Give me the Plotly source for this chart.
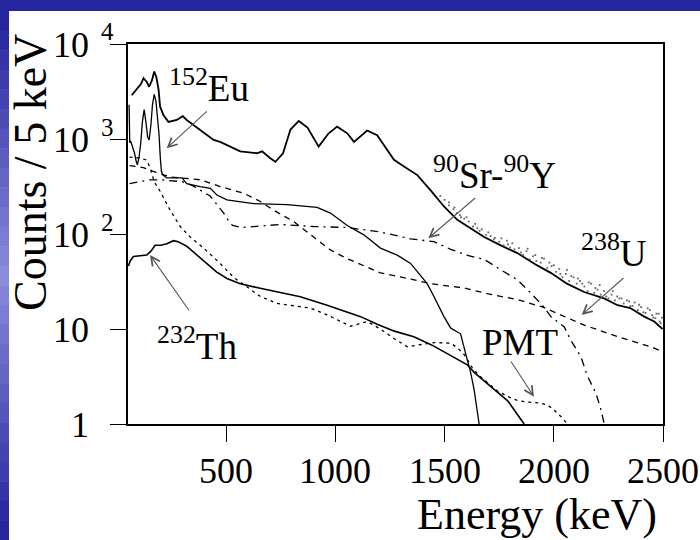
import math
import plotly.graph_objects as go

# ---------------- data ----------------
total_E = [67, 90, 110, 121, 136, 147, 160, 170, 180, 190, 197, 213, 235, 273, 301, 319, 381, 442, 472, 520,
           564, 641, 664, 700, 725, 760, 794, 832, 872, 923, 969, 1008, 1054, 1085, 1145, 1191, 1222, 1268,
           1307, 1375, 1436, 1497, 1558, 1615, 1681, 1757, 1833, 1922, 1986, 2060, 2139, 2230, 2292, 2350,
           2414, 2460, 2498]
total_C = [2884, 3388, 3802, 4365, 3981, 3548, 4169, 5129, 4467, 3311, 2188, 1778, 1514, 1585, 1738, 1585,
           1230, 977, 933, 832, 741, 708, 741, 631, 575, 708, 1259, 1549, 1318, 832, 1148, 1349, 1148, 933,
           1230, 1096, 871, 603, 525, 417, 288, 195, 141, 117, 93, 76, 63, 47, 39, 30, 24.5, 21, 17.8, 16.6,
           13.5, 12, 10]

data_E = [1480, 1500, 1520, 1540, 1555, 1570, 1590, 1610, 1630, 1650, 1670, 1690, 1710, 1730, 1750, 1770,
          1785, 1800, 1820, 1840, 1860, 1875, 1890, 1905, 1920, 1940, 1955, 1970, 1990, 2010, 2025, 2040,
          2055, 2070, 2090, 2105, 2120, 2140, 2155, 2170, 2185, 2200, 2215, 2230, 2250, 2265, 2280, 2300,
          2320, 2335, 2350, 2370, 2385, 2400, 2420, 2440, 2455, 2470, 2485, 2495,
          1520, 1545, 1575, 1600, 1640, 1660, 1700, 1725, 1760, 1790, 1810, 1850, 1880, 1915, 1945, 1980,
          2000, 2030, 2060, 2080, 2110, 2130, 2160, 2190, 2210, 2240, 2270, 2290, 2310, 2345, 2360, 2390,
          2410, 2430, 2450, 2465, 2480, 2490]
data_C = [251, 229, 200, 182, 166, 158, 145, 135, 120, 115, 112, 98, 95, 91, 83, 76, 85, 72, 69, 71, 60, 66,
          54, 58, 52, 50, 55, 44, 46, 40, 43, 35, 38, 32, 35, 30, 32, 28, 25, 30, 24, 26, 23, 25, 21, 23, 20,
          21, 18.6, 20, 17.4, 19, 15.8, 17, 14.8, 15.8, 13.2, 14.5, 12, 13.2,
          215, 190, 150, 150, 128, 108, 104, 88, 90, 78, 80, 64, 70, 60, 56, 50, 47, 38, 42, 36, 34, 30, 31,
          27, 29, 22, 25, 22, 21, 19.5, 17.5, 18, 15, 16.5, 14, 13, 14.5, 11.5]

eu_E = [55, 58, 62, 67, 72, 80, 88, 93, 100, 108, 116, 124, 132, 140, 147, 155, 162, 170, 178, 185, 192, 198,
        203, 210, 228, 297, 319, 380, 427, 457, 503, 625, 778, 916, 977, 1054, 1130, 1206, 1283, 1344, 1390,
        1420, 1451, 1497, 1528, 1573, 1604, 1619, 1635, 1658]
eu_C = [2290, 912, 955, 891, 832, 708, 575, 537, 631, 891, 1514, 2042, 1514, 1047, 977, 1413, 2291, 2951, 2512,
        1778, 1122, 631, 457, 417, 389, 389, 339, 316, 302, 257, 229, 209, 204, 191, 166, 123, 98, 71, 60, 49,
        37, 30, 22, 13.5, 10.2, 8.9, 4.7, 3.5, 2.3, 1]

th_E = [52, 60, 75, 100, 136, 155, 174, 200, 228, 258, 280, 320, 365, 411, 455, 503, 564, 650, 733, 839, 962,
        1040, 1115, 1191, 1270, 1359, 1440, 1512, 1560, 1604, 1635, 1670, 1711, 1757, 1790, 1818, 1845, 1864]
th_C = [46, 52, 58, 59, 60, 66, 76, 76, 79, 85, 83, 74, 60, 49, 40, 34, 30, 27, 24.5, 21.9, 17.8, 15.5, 13.5,
        11.2, 9.5, 8.3, 6.8, 5.5, 4.8, 4.2, 3.5, 3.0, 2.45, 2.0, 1.74, 1.41, 1.17, 1]

pmt_E = [57, 100, 135, 151, 170, 197, 243, 289, 335, 396, 472, 534, 557, 656, 733, 885, 962, 1069, 1145, 1206,
         1270, 1329, 1400, 1451, 1528, 1560, 1589, 1627, 1660, 1696, 1740, 1788, 1830, 1880, 1940, 1972, 2000,
         2032, 2063]
pmt_C = [646, 631, 603, 501, 355, 282, 178, 120, 93, 71, 49, 35, 32, 22, 18.6, 16.6, 14.1, 10.7, 12, 10, 7.9,
         6.5, 6.9, 7.2, 7.1, 6.3, 5.4, 3.9, 3.2, 2.7, 2.24, 1.95, 1.78, 1.70, 1.66, 1.58, 1.41, 1.2, 1]

sry_E = [57, 100, 150, 200, 260, 300, 344, 390, 426, 460, 488, 510, 529, 570, 650, 748, 900, 1054, 1206, 1344,
         1451, 1528, 1600, 1681, 1757, 1833, 1894, 1955, 1986, 2048, 2078, 2124, 2154, 2193, 2216, 2231]
sry_C = [339, 355, 372, 372, 363, 355, 324, 282, 251, 200, 166, 138, 123, 117, 120, 126, 120, 117, 105, 89, 83,
         69, 60, 54, 42, 33, 24, 17, 13.5, 10.5, 7.6, 5.1, 3.2, 2.1, 1.41, 1]

u_E = [57, 120, 165, 243, 381, 472, 579, 650, 717, 809, 916, 977, 1054, 1130, 1206, 1307, 1436, 1589, 1700,
       1833, 1950, 2030, 2139, 2292, 2445, 2500]
u_C = [525, 501, 457, 398, 372, 316, 269, 224, 178, 135, 87, 68, 55, 46, 39, 35, 30, 27, 23.4, 20.4, 17, 14.1,
       11, 8.3, 6.5, 5.75]

x_range = [50, 2500]
x_ticks = [500, 1000, 1500, 2000, 2500]
x_minor = [v for v in range(100, 2500, 100) if v % 500]
y_major = [1, 10, 100, 1000, 10000]
y_minor = [m * d for d in (1, 10, 100, 1000) for m in range(2, 10)]
y_labels = [("1", ""), ("10", ""), ("10", "2"), ("10", "3"), ("10", "4")]

# ---------------- figure ----------------
SERIF = "Liberation Serif"
W, H = 700, 540
L, R, T, B = 128, 663, 44, 424
YDEC = 4.0  # decades shown on the log axis (1 .. 10^4)
PW, PH = R - L, B - T
X_PER_PX = (x_range[1] - x_range[0]) / PW
DEC_PER_PX = YDEC / PH


def px(x):
    return (x - L) / PW


def py(y):
    return (B - y) / PH


fig = go.Figure()
lw = 1.3
fig.add_trace(go.Scatter(x=total_E, y=total_C, mode="lines", line=dict(color="black", width=1.8)))
fig.add_trace(go.Scatter(x=data_E, y=data_C, mode="markers",
                         marker=dict(color="#666", size=1.8, symbol="square")))
fig.add_trace(go.Scatter(x=eu_E, y=eu_C, mode="lines", line=dict(color="black", width=lw)))
fig.add_trace(go.Scatter(x=th_E, y=th_C, mode="lines", line=dict(color="black", width=1.6)))
fig.add_trace(go.Scatter(x=pmt_E, y=pmt_C, mode="lines",
                         line=dict(color="black", width=lw, dash="3px,4px")))
fig.add_trace(go.Scatter(x=sry_E, y=sry_C, mode="lines",
                         line=dict(color="black", width=lw, dash="8px,5px,2px,5px")))
fig.add_trace(go.Scatter(x=u_E, y=u_C, mode="lines",
                         line=dict(color="black", width=lw, dash="6px,5px")))

# tick marks: line-shaped markers placed on the axis scales, drawn just outside the frame
def tick_trace(xs, ys, symbol, size):
    return go.Scatter(x=xs, y=ys, mode="markers", cliponaxis=False, hoverinfo="skip",
                      marker=dict(symbol=symbol, size=size, color="black",
                                  line=dict(color="black", width=1.4)))


for vals, ln in ((x_ticks, 16), (x_minor, 8)):
    ybelow = 10 ** (-(ln / 2) * DEC_PER_PX)
    fig.add_trace(tick_trace(vals, [ybelow] * len(vals), "line-ns", ln))
for vals, ln in ((y_major, 16), (y_minor, 7)):
    xleft = x_range[0] - (ln / 2) * X_PER_PX
    fig.add_trace(tick_trace([xleft] * len(vals), vals, "line-ew", ln))

ann = []
# y tick labels
for v, (base, sup) in zip(y_major, y_labels):
    yy = B - PH * math.log10(v) / YDEC
    ann.append(dict(xref="paper", yref="paper", x=px(91), y=py(yy + 1), xanchor="right", yanchor="middle",
                    text=base, showarrow=False, font=dict(family=SERIF, size=36, color="black")))
    if sup:
        ann.append(dict(xref="paper", yref="paper", x=px(99), y=py(yy - 12), xanchor="left",
                        yanchor="middle", text=sup, showarrow=False,
                        font=dict(family=SERIF, size=25, color="black")))
# x tick labels
for v in x_ticks:
    ann.append(dict(xref="x", yref="paper", x=v, y=py(471), xanchor="center", yanchor="middle",
                    text=str(v), showarrow=False, font=dict(family=SERIF, size=36, color="black")))
# axis titles
ann.append(dict(xref="paper", yref="paper", x=px(659), y=py(514), xanchor="right", yanchor="middle",
                text="Energy (keV)", showarrow=False, font=dict(family=SERIF, size=44, color="black")))
ann.append(dict(xref="paper", yref="paper", x=px(31), y=py(173), xanchor="center", yanchor="middle",
                text="Counts / 5 keV", textangle=-90, showarrow=False,
                font=dict(family=SERIF, size=46, color="black")))

# labels
labfont = dict(family=SERIF, size=37, color="black")
labels = [("<sup>152</sup>Eu", 209, 85), ("<sup>90</sup>Sr-<sup>90</sup>Y", 494, 172),
          ("<sup>238</sup>U", 614, 250), ("PMT", 520, 342), ("<sup>232</sup>Th", 197, 343)]
for t, xx, yy in labels:
    ann.append(dict(xref="paper", yref="paper", x=px(xx), y=py(yy), xanchor="center", yanchor="middle",
                    text=t, showarrow=False, font=labfont))

# arrows (tip, tail) in pixels
arrows = [((166.7, 148.3), (208.3, 110)), ((428.3, 238.3), (476.7, 196.7)),
          ((581.7, 315), (625, 276.7)), ((534, 396.7), (510, 360)), ((150, 255), (190, 311.7))]
for (tx, ty), (sx, sy) in arrows:
    ann.append(dict(xref="paper", yref="paper", x=px(tx), y=py(ty), ax=sx - tx, ay=sy - ty,
                    showarrow=True, arrowhead=5, arrowsize=1.6, arrowwidth=1.1, arrowcolor="#555",
                    text=""))

# slide frame: dark blue top band, left band with a lighter middle
shapes = [dict(type="rect", xref="paper", yref="paper", layer="below",
               x0=px(0), x1=px(700), y0=py(11), y1=py(0), fillcolor="#25259e", line=dict(width=0))]
n = 27
for i in range(n):
    t = i / (n - 1)
    k = 1 - abs(t - 0.5) * 2  # 0 at ends, 1 in middle
    r = int(0x25 + (0x8c - 0x25) * k)
    g = int(0x25 + (0x8c - 0x25) * k)
    b = int(0x9e + (0xdc - 0x9e) * k)
    y0 = 11 + (540 - 11) * i / n
    y1 = 11 + (540 - 11) * (i + 1) / n
    shapes.append(dict(type="rect", xref="paper", yref="paper", layer="below",
                       x0=px(0), x1=px(9), y0=py(y1 + 0.5), y1=py(y0),
                       fillcolor="#%02x%02x%02x" % (r, g, b), line=dict(width=0)))

fig.update_layout(
    width=W, height=H, margin=dict(l=L, r=W - R, t=T, b=H - B),
    paper_bgcolor="white", plot_bgcolor="white", showlegend=False,
    annotations=ann, shapes=shapes,
    xaxis=dict(range=x_range, showline=True, linecolor="black", linewidth=1.5, mirror=True,
               ticks="outside", tickmode="array", tickvals=x_ticks, ticklen=16, tickwidth=1.4,
               tickcolor="black", showticklabels=False, showgrid=False, zeroline=False),
    yaxis=dict(type="log", range=[0, YDEC], showline=True, linecolor="black", linewidth=1.5, mirror=True,
               ticks="outside", tickmode="array", tickvals=y_major, ticklen=16, tickwidth=1.4,
               tickcolor="black", showticklabels=False, showgrid=False, zeroline=False),
)

fig.write_html("out.html")
